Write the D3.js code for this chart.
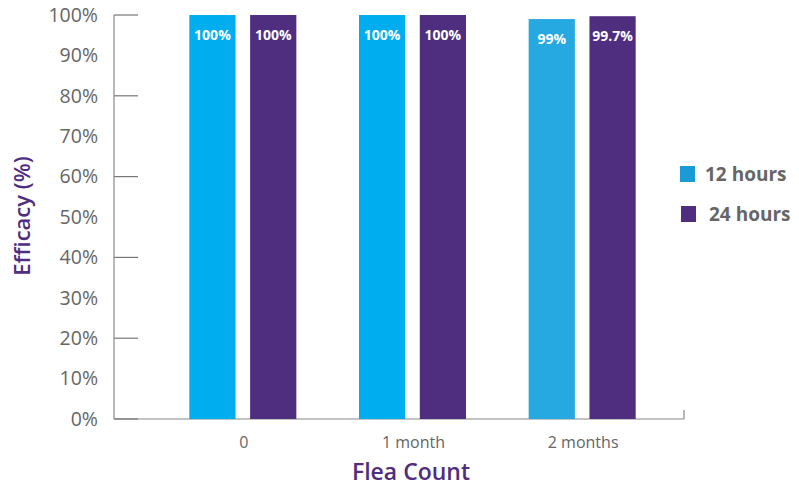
<html>
<script src="https://d3js.org/d3.v7.min.js"></script>
<style>
  body { margin: 0; background: #fff; }
  text { font-family: "Open Sans", sans-serif; }
</style>
<body>
<svg width="799" height="487"></svg>
<script>
var categories = ["0", "1 month", "2 months"];
var series = ["12 hours", "24 hours"];
var hours12 = [100, 100, 99];
var hours24 = [100, 100, 99.7];
var labels12 = ["100%", "100%", "99%"];
var labels24 = ["100%", "100%", "99.7%"];
var blueShades = ["#00AEEF", "#00AEEF", "#25A9E0"];
var purple = "#4F2D7F";
var legendColors = ["#1C9AD6", "#4F2D7F"];
var yTicks = [0, 10, 20, 30, 40, 50, 60, 70, 80, 90, 100];
var yMarks = [0, 20, 40, 60, 80, 100];

var svg = d3.select("svg");

var y = d3.scaleLinear().domain([0, 100]).range([419, 15]);
var x = d3.scaleBand().domain(categories).range([158, 667]);
var inner = d3.scaleBand().domain(series).range([0, 107]).paddingInner(0.24);

// axes
svg.append("line").attr("x1", 114).attr("x2", 114).attr("y1", y(100)).attr("y2", y(0))
  .attr("stroke", "#888").attr("stroke-width", 1.2);
svg.append("line").attr("x1", 114).attr("x2", 684).attr("y1", y(0)).attr("y2", y(0))
  .attr("stroke", "#888").attr("stroke-width", 1.2);
svg.append("line").attr("x1", 684).attr("x2", 684).attr("y1", y(0)).attr("y2", y(0) - 9)
  .attr("stroke", "#888").attr("stroke-width", 1.2);

svg.selectAll(".ymark").data(yMarks).enter().append("line")
  .attr("x1", 114).attr("x2", 138)
  .attr("y1", function(d) { return y(d); }).attr("y2", function(d) { return y(d); })
  .attr("stroke", "#777").attr("stroke-width", 1.2);

svg.selectAll(".ylab").data(yTicks).enter().append("text")
  .attr("x", 98).attr("y", function(d) { return y(d); })
  .attr("dy", "0.35em").attr("text-anchor", "end")
  .attr("font-size", 19.5).attr("fill", "#666")
  .text(function(d) { return d + "%"; });

svg.selectAll(".xlab").data(categories).enter().append("text")
  .attr("x", function(d) { return x(d) + x.bandwidth() / 2 + 1; })
  .attr("y", 448).attr("text-anchor", "middle")
  .attr("font-size", 16).attr("fill", "#666")
  .text(function(d) { return d; });

// bars
var groups = svg.selectAll(".grp").data(categories).enter().append("g")
  .attr("transform", function(d) { return "translate(" + (x(d) + x.bandwidth() / 2 - 53.5) + ",0)"; });

groups.append("rect")
  .attr("x", inner("12 hours")).attr("width", inner.bandwidth())
  .attr("y", function(d, i) { return y(hours12[i]); })
  .attr("height", function(d, i) { return y(0) - y(hours12[i]); })
  .attr("fill", function(d, i) { return blueShades[i]; });
groups.append("rect")
  .attr("x", inner("24 hours")).attr("width", inner.bandwidth())
  .attr("y", function(d, i) { return y(hours24[i]); })
  .attr("height", function(d, i) { return y(0) - y(hours24[i]); })
  .attr("fill", purple);

groups.append("text")
  .attr("x", inner("12 hours") + inner.bandwidth() / 2)
  .attr("y", function(d, i) { return y(hours12[i]) + 25; })
  .attr("text-anchor", "middle").attr("font-size", 14).attr("font-weight", "bold")
  .attr("fill", "#fff")
  .text(function(d, i) { return labels12[i]; });
groups.append("text")
  .attr("x", inner("24 hours") + inner.bandwidth() / 2)
  .attr("y", function(d, i) { return y(hours24[i]) + 25; })
  .attr("text-anchor", "middle").attr("font-size", 14).attr("font-weight", "bold")
  .attr("fill", "#fff")
  .text(function(d, i) { return labels24[i]; });

// axis titles
svg.append("text")
  .attr("transform", "translate(30,216) rotate(-90)")
  .attr("text-anchor", "middle").attr("font-size", 22).attr("font-weight", 600)
  .attr("fill", purple).text("Efficacy (%)");
svg.append("text")
  .attr("x", 411).attr("y", 480).attr("text-anchor", "middle")
  .attr("font-size", 23).attr("font-weight", 600)
  .attr("fill", purple).text("Flea Count");

// legend
var leg = svg.selectAll(".leg").data(series).enter().append("g")
  .attr("transform", function(d, i) { return "translate(" + (680 + i * 1) + "," + (166 + i * 40) + ")"; });
leg.append("rect").attr("width", 15).attr("height", 16)
  .attr("fill", function(d, i) { return legendColors[i]; });
leg.append("text").attr("x", function(d, i) { return 25 + i * 3; }).attr("y", 15)
  .attr("font-size", 19).attr("font-weight", "bold").attr("fill", "#666")
  .text(function(d) { return d; });
</script>
</body>
</html>
